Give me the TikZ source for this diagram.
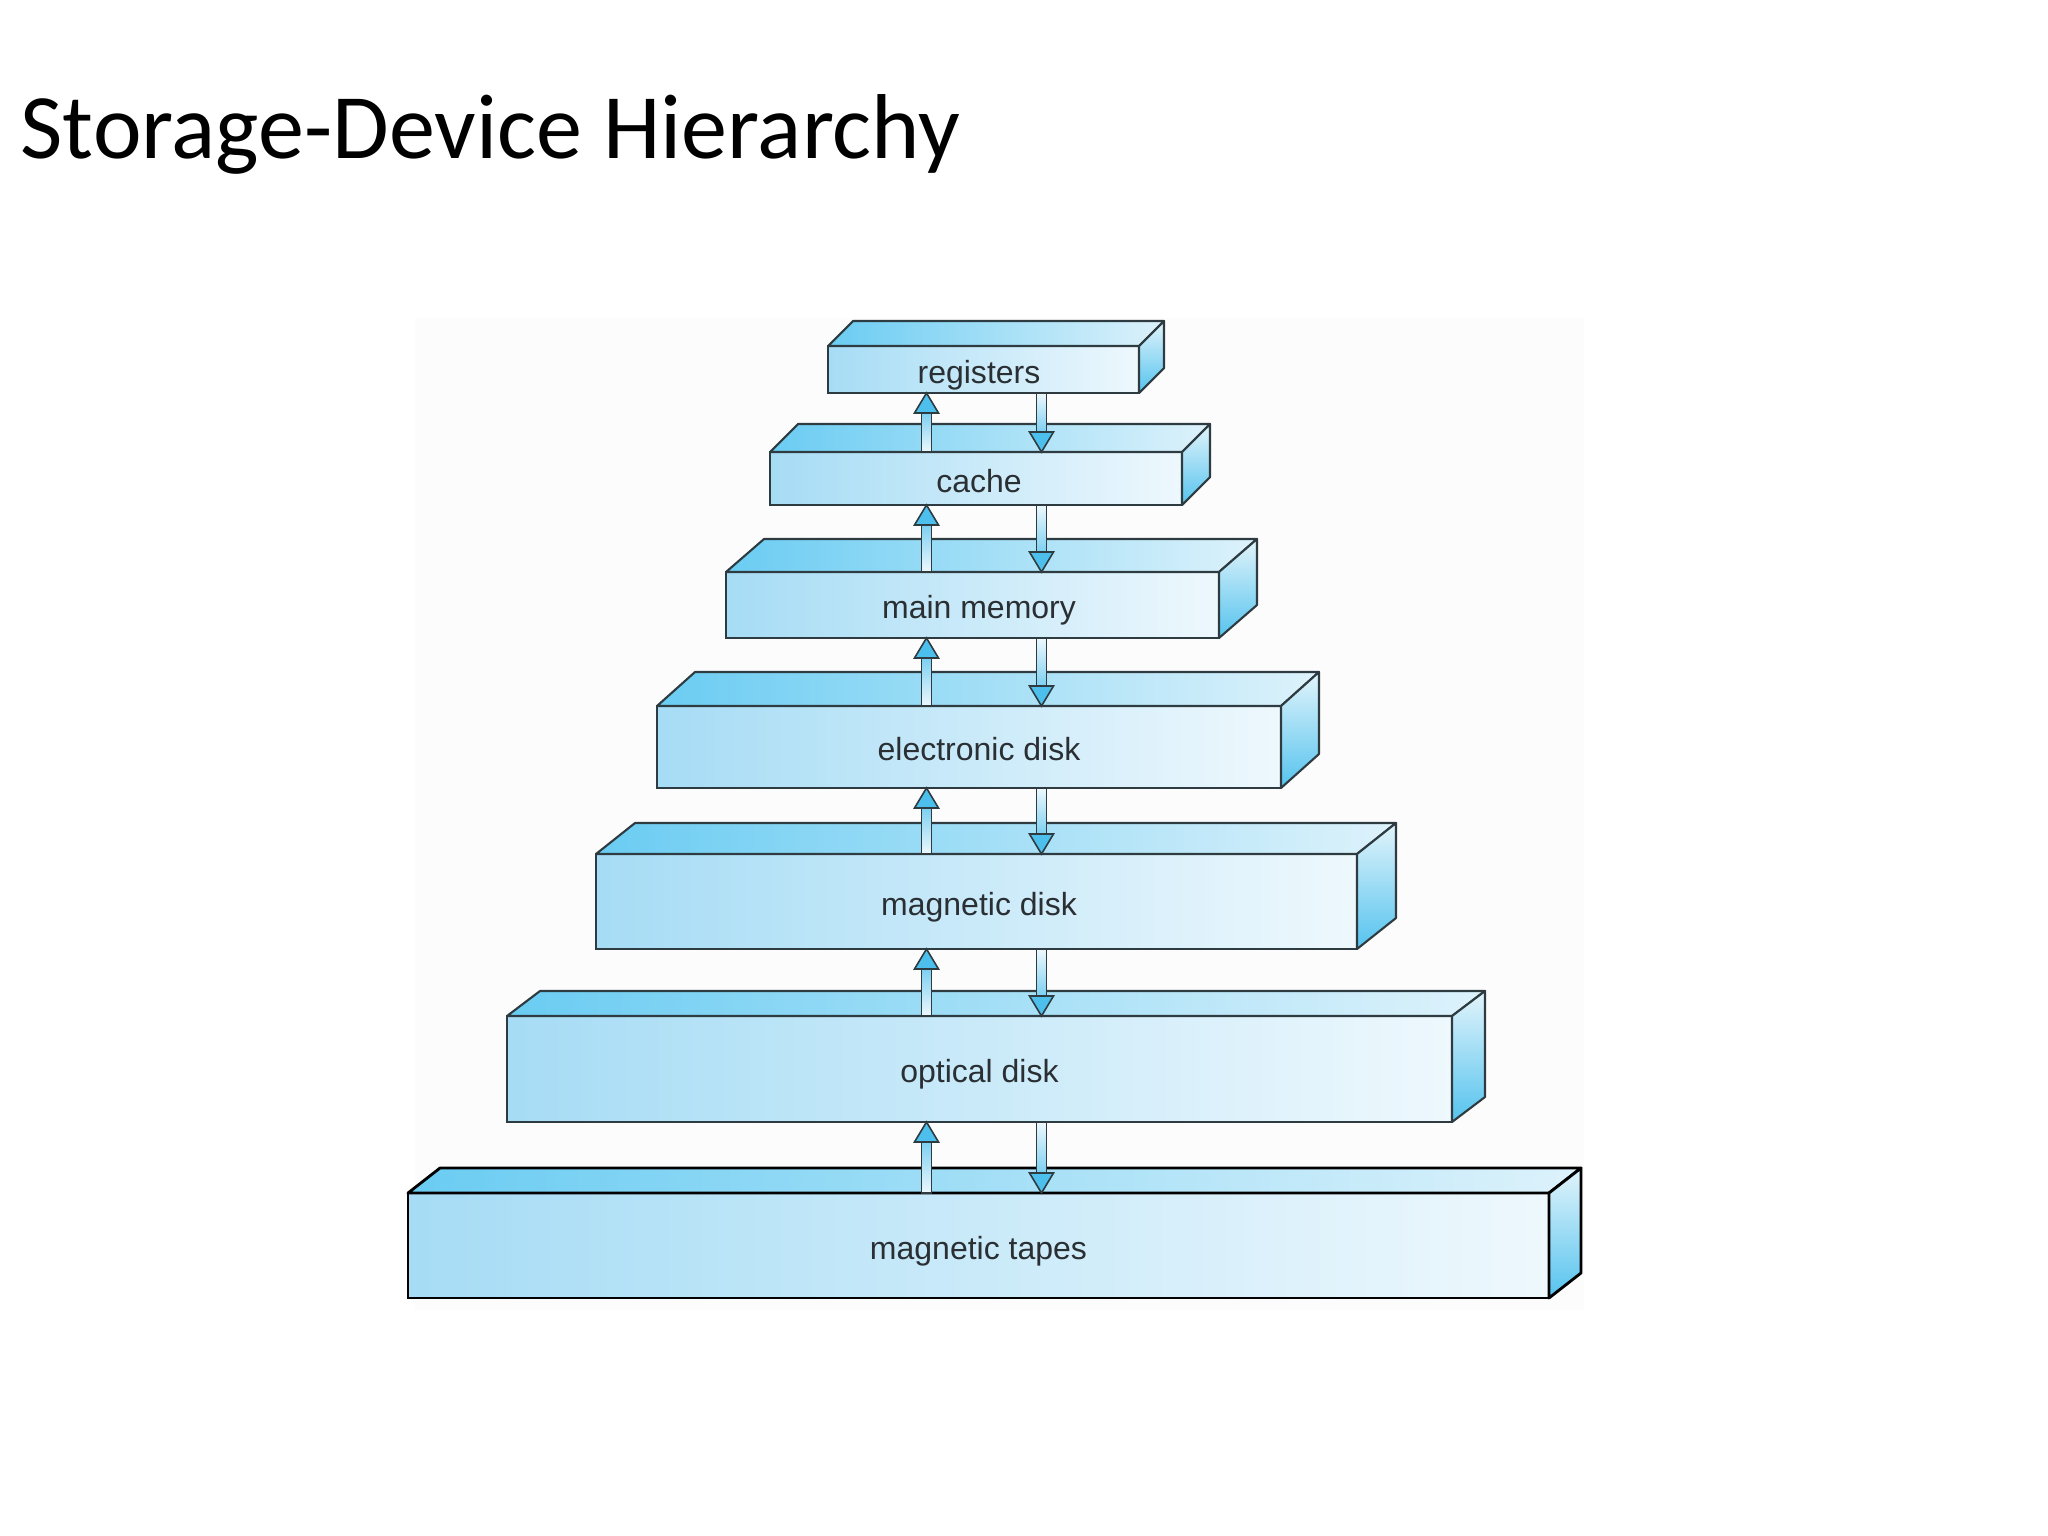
\documentclass[tikz,border=0pt]{standalone}
\usepackage{fontspec}
\setmainfont{Liberation Sans}
\newfontfamily\titlefont{Carlito}
\usetikzlibrary{calc}
\definecolor{edge}{HTML}{2E3B40}
\definecolor{frontL}{HTML}{A6DCF5}
\definecolor{frontR}{HTML}{EEF8FD}
\definecolor{topL}{HTML}{6ACCF2}
\definecolor{topR}{HTML}{DDF2FB}
\definecolor{sideT}{HTML}{E2F4FB}
\definecolor{sideB}{HTML}{55C3EE}
\definecolor{arrHead}{HTML}{4CBFEC}
\definecolor{arrTail}{HTML}{EEF8FD}
\definecolor{txt}{HTML}{2A2F33}
\definecolor{panel}{HTML}{FCFCFC}
\tikzset{
  edgeline/.style={draw=edge, line width=0.6pt},
  front/.style={edgeline, rectangle, inner sep=0pt, outer sep=0pt,
    left color=frontL, right color=frontR, text=txt,
    text height=0.34cm, text depth=0.07cm,
    font=\fontsize{9.1pt}{11pt}\selectfont},
  topface/.style={edgeline, line join=round, left color=topL, right color=topR},
  sideface/.style={edgeline, line join=round, top color=sideT, bottom color=sideB},
  uparr/.style={draw=edge, line width=0.45pt, top color=arrHead!70!arrTail, bottom color=arrTail},
  dnarr/.style={draw=edge, line width=0.45pt, top color=arrTail, bottom color=arrHead!70!arrTail},
  headfill/.style={draw=edge, line width=0.45pt, line join=miter, fill=arrHead},
}
% #1 name, #2 cx, #3 cy, #4 w, #5 h, #6 depth x, #7 depth y, #8 text, #9 text shift (double)
\newcommand\slab[9]{%
  \node[front, minimum width=#4*0.01cm, minimum height=#5*0.01cm] (#1) at (#2,#3) {\hspace*{#9}#8};
  \path[topface] (#1.north west) -- ++(#6,-#7) -- ($(#1.north east)+(#6,-#7)$) -- (#1.north east) -- cycle;
  \path[sideface] (#1.north east) -- ++(#6,-#7) -- ($(#1.south east)+(#6,-#7)$) -- (#1.south east) -- cycle;
}
% #1 upper node, #2 lower node
\newcommand\updown[2]{%
  \coordinate (#1-#2-ut) at (#1.south -| upx);
  \coordinate (#1-#2-ub) at (#2.north -| upx);
  \coordinate (#1-#2-dt) at (#1.south -| dnx);
  \coordinate (#1-#2-db) at (#2.north -| dnx);
  \path[uparr] ([xshift=-0.05cm]#1-#2-ub) -- ([xshift=-0.05cm,yshift=-0.2cm]#1-#2-ut)
    -- ([xshift=0.05cm,yshift=-0.2cm]#1-#2-ut) -- ([xshift=0.05cm]#1-#2-ub) -- cycle;
  \path[headfill] ([xshift=-0.12cm,yshift=-0.2cm]#1-#2-ut) -- (#1-#2-ut)
    -- ([xshift=0.12cm,yshift=-0.2cm]#1-#2-ut) -- cycle;
  \path[dnarr] ([xshift=-0.05cm]#1-#2-dt) -- ([xshift=-0.05cm,yshift=0.2cm]#1-#2-db)
    -- ([xshift=0.05cm,yshift=0.2cm]#1-#2-db) -- ([xshift=0.05cm]#1-#2-dt) -- cycle;
  \path[headfill] ([xshift=-0.12cm,yshift=0.2cm]#1-#2-db) -- (#1-#2-db)
    -- ([xshift=0.12cm,yshift=0.2cm]#1-#2-db) -- cycle;
}
\begin{document}
\begin{tikzpicture}[x=0.01cm, y=-0.01cm]
  \useasboundingbox (0,0) rectangle (2048,1536);
  \fill[white] (0,0) rectangle (2048,1536);
  \fill[panel] (415,318) rectangle (1584,1310);
  \node[anchor=base west, inner sep=0pt, font=\titlefont\fontsize{26.2pt}{30pt}\selectfont] (title) at (20,158) {Storage-Device Hierarchy};
  \coordinate (upx) at (926.5,0);
  \coordinate (dnx) at (1041.5,0);
  \slab{reg}{983.5}{369.5}{311}{47}{25}{25}{registers}{-0.09cm}
  \slab{cache}{976}{478.5}{412}{53}{28}{28}{cache}{0.06cm}
  \slab{mem}{972.5}{605}{493}{66}{38}{33}{main memory}{0.13cm}
  \slab{edisk}{969}{747}{624}{82}{38}{34}{electronic disk}{0.2cm}
  \slab{mdisk}{976.5}{901.5}{761}{95}{39}{31}{magnetic disk}{0.05cm}
  \slab{odisk}{979.5}{1069}{945}{106}{33}{25}{optical disk}{0pt}
  \tikzset{edgeline/.style={draw=black, line width=0.8pt}}
  \slab{tapes}{978.5}{1245.5}{1141}{105}{32}{25}{magnetic tapes}{0pt}
  \updown{reg}{cache}
  \updown{cache}{mem}
  \updown{mem}{edisk}
  \updown{edisk}{mdisk}
  \updown{mdisk}{odisk}
  \updown{odisk}{tapes}
\end{tikzpicture}
\end{document}
